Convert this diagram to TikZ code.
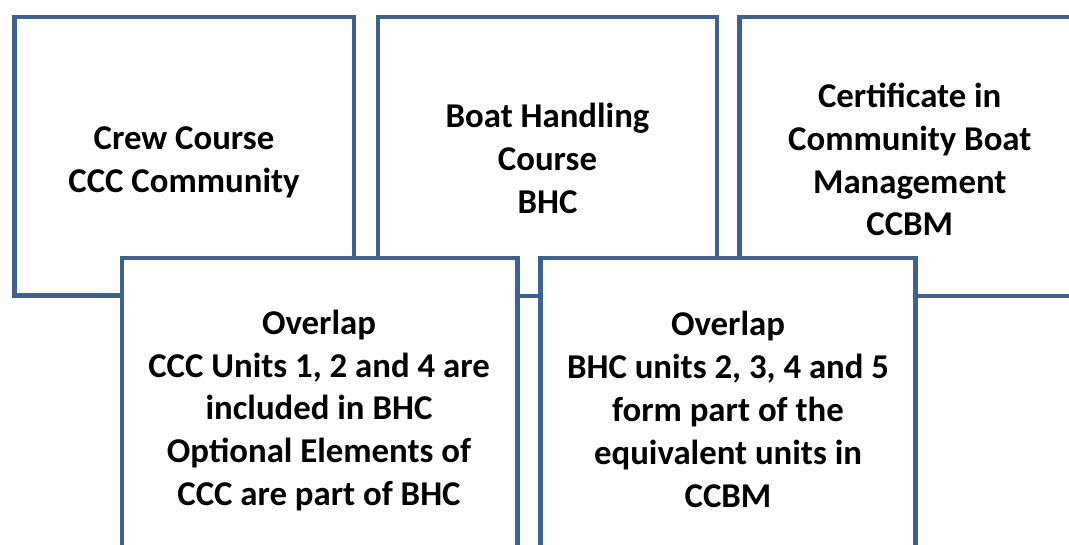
\documentclass[tikz,border=0pt]{standalone}
\usepackage{fontspec}
\setmainfont{Carlito}
\definecolor{boxline}{RGB}{62,98,144}
\begin{document}
\begin{tikzpicture}[x=1pt,y=-1pt,
  course/.style={draw=boxline, line width=4.3pt, fill=white, inner sep=0pt,
    anchor=center},
  coursetext/.style={inner sep=0pt, align=center, anchor=center,
    font=\fontsize{34.8}{42.8}\selectfont\bfseries}]
\useasboundingbox (0,0) rectangle (1069,545);
\clip (0,0) rectangle (1069,545);
% three course boxes along the top
\node[course, minimum width=339.5pt, minimum height=278.5pt] (ccc) at (184.25,156.25) {};
\node[coursetext] (ccctext) at (184,162) {Crew Course\\CCC Community};
\node[course, minimum width=339pt, minimum height=279pt] (bhc) at (547.5,156.5) {};
\node[coursetext] (bhctext) at (547.5,158.5) {Boat Handling\\Course\\BHC};
\node[course, minimum width=340.5pt, minimum height=279pt] (ccbm) at (909.75,156.5) {};
\node[coursetext] (ccbmtext) at (909.75,159.5)
  {Certificate in\\Community Boat\\Management\\CCBM};
% overlap boxes laid over the lower edges
\node[course, minimum width=395.5pt, minimum height=302pt] (ovA) at (319.75,409) {};
\node[coursetext] (ovAtext) at (319,410.5)
  {Overlap\\CCC Units 1, 2 and 4 are\\included in BHC\\Optional Elements of\\CCC are part of BHC};
\node[course, minimum width=375pt, minimum height=302pt] (ovB) at (728,409) {};
\node[coursetext] (ovBtext) at (728,409.5)
  {Overlap\\BHC units 2, 3, 4 and 5\\form part of the\\equivalent units in\\CCBM};
\end{tikzpicture}
\end{document}
